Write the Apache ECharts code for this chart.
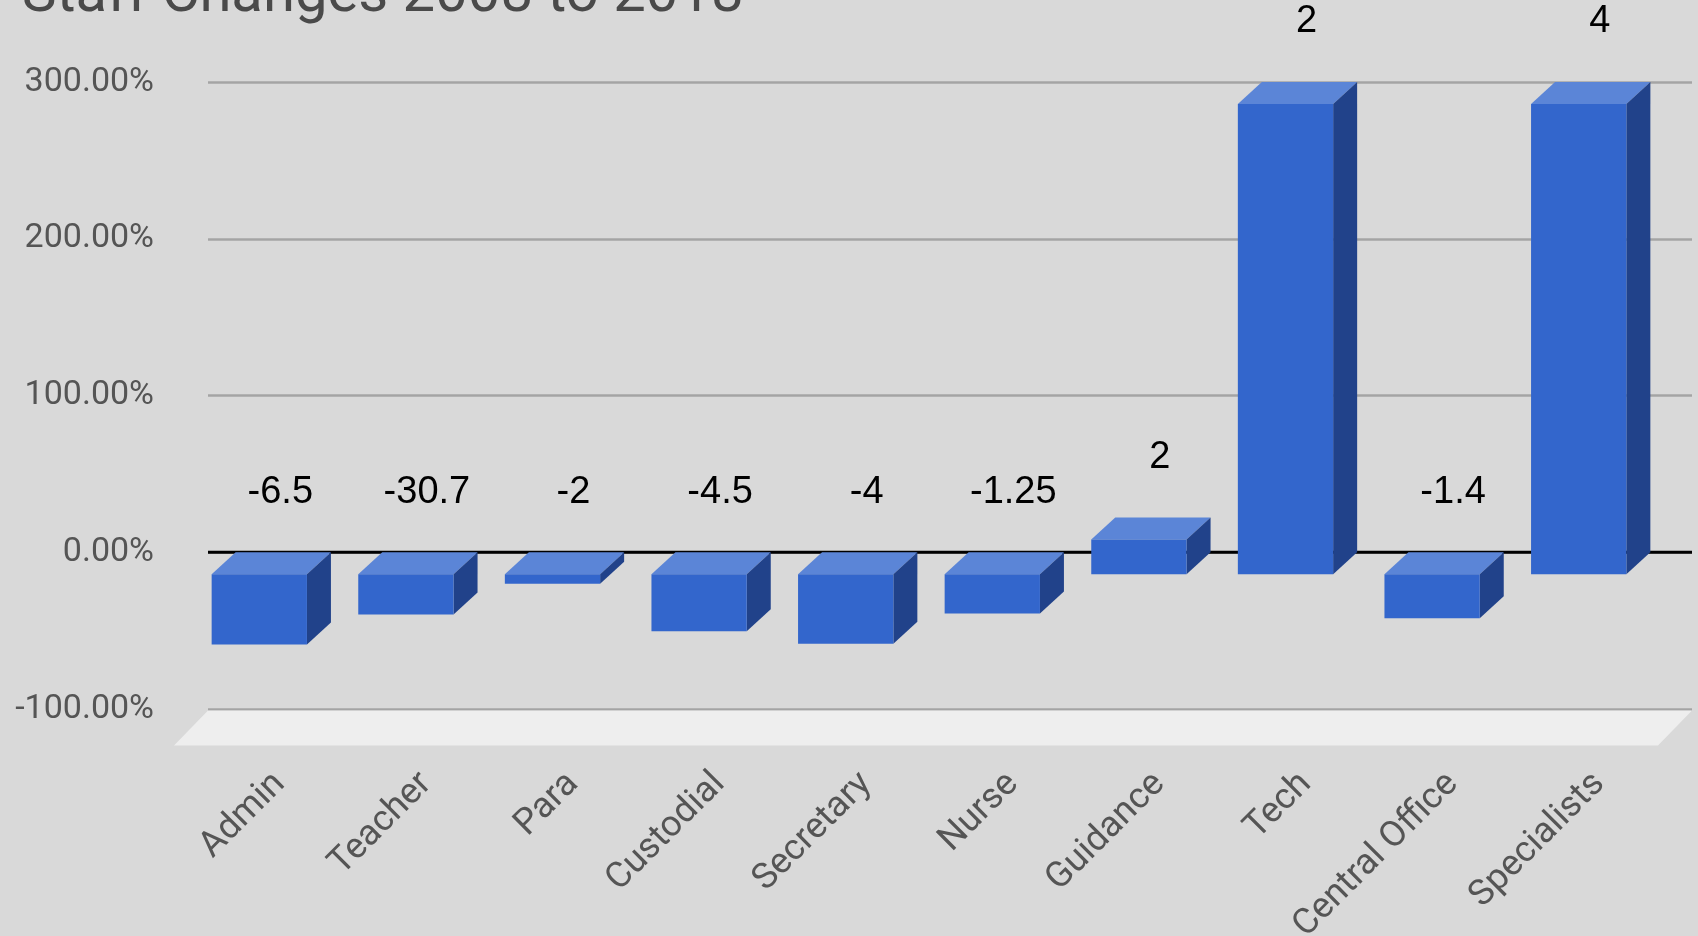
<!DOCTYPE html>
<html>
<head>
<meta charset="utf-8">
<title>Staff Changes 2008 to 2018</title>
<script src="https://cdn.jsdelivr.net/npm/echarts@6/dist/echarts.min.js"></script>
<style>
  html, body { margin: 0; padding: 0; background: #d9d9d9; }
  #chart { width: 1698px; height: 936px; }
</style>
</head>
<body>
<div id="chart"></div>
<script>
// Staff roles
const categories = ['Admin', 'Teacher', 'Para', 'Custodial', 'Secretary', 'Nurse', 'Guidance', 'Tech', 'Central Office', 'Specialists'];
// Percent change in staffing, 2008 to 2018
const percentChange = [-44.8, -25.6, -6.1, -36.4, -44.4, -25.0, 22.2, 300, -28.0, 300];
// Change in number of positions (shown above each bar)
const positionChange = [-6.5, -30.7, -2, -4.5, -4, -1.25, 2, 2, -1.4, 4];
// Value axis ticks
const axisMin = -100, axisMax = 300, axisStep = 100;

const FRONT = '#3366cc', TOP = '#5b85d7', SIDE = '#21428a';
const DEPTH = [-24, 22];       // bar front-face offset from the back plane
const FLOOR_DEPTH = [-34, 35]; // floor front-edge offset
const BAR_RATIO = 0.65;

const chart = echarts.init(document.getElementById('chart'));

// Floor under the plot and the black zero baseline, spanning the whole back wall
function renderWall(params, api) {
  const cs = params.coordSys;
  const y0 = api.coord([0, 0])[1];
  const yf = api.coord([0, axisMin])[1] + 1.5;
  return {
    type: 'group',
    children: [
      {
        type: 'polygon',
        shape: { points: [
          [cs.x, yf], [cs.x + cs.width, yf],
          [cs.x + cs.width + FLOOR_DEPTH[0], yf + FLOOR_DEPTH[1]],
          [cs.x + FLOOR_DEPTH[0], yf + FLOOR_DEPTH[1]]
        ] },
        style: { fill: '#eeeeee' }
      },
      {
        type: 'line',
        shape: { x1: cs.x, y1: y0, x2: cs.x + cs.width, y2: y0 },
        style: { stroke: '#000000', lineWidth: 3 }
      }
    ]
  };
}

// One extruded bar per category, with its label above
function renderBar(params, api) {
  const cat = api.value(0);
  const v = api.value(1);
  const zero = api.coord([cat, 0]);
  const end = api.coord([cat, v]);
  const bandW = api.size([1, 0])[0];
  const w = bandW * BAR_RATIO;
  const xl = zero[0] - w / 2, xr = zero[0] + w / 2;
  const yTop = Math.min(zero[1], end[1]);
  const yBot = Math.max(zero[1], end[1]);
  const [dx, dy] = DEPTH;

  return {
    type: 'group',
    children: [
      { // top face
        type: 'polygon',
        shape: { points: [[xl, yTop], [xr, yTop], [xr + dx, yTop + dy], [xl + dx, yTop + dy]] },
        style: { fill: TOP }
      },
      { // right side face
        type: 'polygon',
        shape: { points: [[xr, yTop], [xr, yBot], [xr + dx, yBot + dy], [xr + dx, yTop + dy]] },
        style: { fill: SIDE }
      },
      { // front face
        type: 'rect',
        shape: { x: xl + dx, y: yTop + dy, width: w, height: yBot - yTop },
        style: { fill: FRONT }
      },
      { // value label
        type: 'text',
        x: zero[0] - 3,
        y: yTop - 60,
        style: {
          text: String(api.value(2)),
          fill: '#000000',
          fontFamily: '"Liberation Sans", Arial, sans-serif',
          fontSize: 38,
          align: 'center',
          verticalAlign: 'middle'
        }
      }
    ]
  };
}

chart.setOption({
  backgroundColor: '#d9d9d9',
  animation: false,
  title: {
    text: 'Staff Changes 2008 to 2018',
    left: 17,
    top: -38,
    textStyle: {
      fontFamily: 'Roboto, sans-serif',
      fontSize: 58,
      fontWeight: 'normal',
      color: '#4a4a4a'
    }
  },
  grid: [
    { left: 208, right: 6, top: 82, bottom: 227, containLabel: false, outerBoundsMode: 'none' },
    { left: 210, right: 22, top: 82, bottom: 227, containLabel: false, outerBoundsMode: 'none' }
  ],
  xAxis: [
    { type: 'value', gridIndex: 0, min: 0, max: 1, show: false },
    {
      type: 'category',
      gridIndex: 1,
      data: categories,
      axisLine: { show: false },
      axisTick: { show: false },
      splitLine: { show: false },
      axisLabel: {
        rotate: 45,
        margin: 66,
        interval: 0,
        padding: [0, 5, 0, 0],
        color: '#555555',
        fontFamily: 'Roboto, sans-serif',
        fontSize: 36
      }
    }
  ],
  yAxis: [
    {
      type: 'value',
      gridIndex: 0,
      min: axisMin,
      max: axisMax,
      interval: axisStep,
      axisLine: { show: false },
      axisTick: { show: false },
      axisLabel: {
        margin: 54,
        padding: [5, 0, 0, 0],
        color: '#555555',
        fontFamily: 'Roboto, sans-serif',
        fontSize: 34,
        formatter: (val) => val.toFixed(2) + '%'
      },
      splitLine: { lineStyle: { color: '#a4a4a4', width: 2.5 } }
    },
    {
      type: 'value',
      gridIndex: 1,
      min: axisMin,
      max: axisMax,
      interval: axisStep,
      show: false,
      splitLine: { show: false }
    }
  ],
  series: [
    {
      type: 'custom',
      xAxisIndex: 0,
      yAxisIndex: 0,
      clip: false,
      renderItem: renderWall,
      data: [[0, 0]]
    },
    {
      type: 'custom',
      xAxisIndex: 1,
      yAxisIndex: 1,
      clip: false,
      renderItem: renderBar,
      encode: { x: 0, y: 1 },
      data: categories.map((c, i) => [i, percentChange[i], positionChange[i]])
    }
  ]
});
</script>
</body>
</html>
